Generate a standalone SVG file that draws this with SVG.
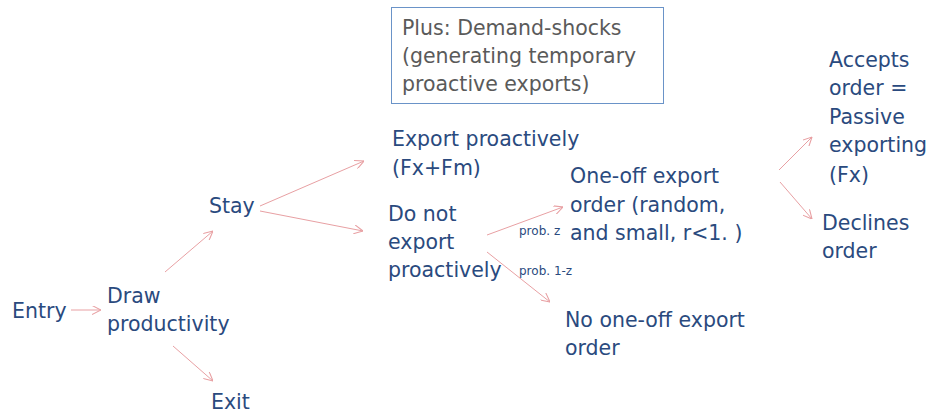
<svg xmlns="http://www.w3.org/2000/svg" width="932" height="413" viewBox="0 0 932 413">
<defs>
<marker id="ah" viewBox="0 0 10 10" refX="10" refY="5" markerWidth="9" markerHeight="9" markerUnits="userSpaceOnUse" orient="auto">
<path d="M0,0 L10,5 L0,10" fill="none" stroke="#e8a0a3" stroke-width="1.2"/>
</marker>
</defs>
<style>
text{font-family:"DejaVu Sans","Noto Sans",sans-serif;font-size:20.5px;fill:#2a4a7e}
.box{font-size:20.5px;fill:#5a5a5a}
.sm{font-size:12px}
.c{stroke:#e8a0a3;stroke-width:1;fill:none;marker-end:url(#ah)}
</style>
<rect width="932" height="413" fill="#fff"/>
<g id="connectors">
<line class="c" x1="71" y1="310" x2="101" y2="310"/>
<line class="c" x1="165" y1="272" x2="213" y2="231"/>
<line class="c" x1="173" y1="346" x2="213" y2="381"/>
<line class="c" x1="260" y1="206" x2="364" y2="161"/>
<line class="c" x1="260" y1="211" x2="363" y2="231"/>
<line class="c" x1="487" y1="235" x2="563" y2="207"/>
<line class="c" x1="487" y1="252" x2="550" y2="302"/>
<line class="c" x1="779" y1="170" x2="812" y2="137"/>
<line class="c" x1="780" y1="182" x2="812" y2="219"/>
</g>
<g id="note">
<rect x="391.5" y="7.5" width="272" height="96" fill="#fff" stroke="#6a93c8" stroke-width="1"/>
<text class="box" x="402" y="35">Plus: Demand-shocks</text>
<text class="box" x="402" y="63">(generating temporary</text>
<text class="box" x="402" y="91">proactive exports)</text>
</g>
<g id="entry"><text x="12" y="318">Entry</text></g>
<g id="draw"><text x="107" y="303">Draw</text><text x="107" y="331">productivity</text></g>
<g id="stay"><text x="209" y="213">Stay</text></g>
<g id="exit"><text x="211" y="409">Exit</text></g>
<g id="export"><text x="392" y="146">Export proactively</text><text x="392" y="175">(Fx+Fm)</text></g>
<g id="donot"><text x="388" y="221">Do not</text><text x="388" y="249">export</text><text x="388" y="277">proactively</text></g>
<g id="probz"><text class="sm" x="519" y="235">prob. z</text></g>
<g id="prob1z"><text class="sm" x="519" y="275">prob. 1-z</text></g>
<g id="oneoff"><text x="570" y="183">One-off export</text><text x="570" y="212">order (random,</text><text x="570" y="240">and small, r&lt;1. )</text></g>
<g id="nooneoff"><text x="565" y="327">No one-off export</text><text x="565" y="355">order</text></g>
<g id="accepts"><text x="829" y="67">Accepts</text><text x="829" y="95">order =</text><text x="829" y="124">Passive</text><text x="829" y="152">exporting</text><text x="829" y="182">(Fx)</text></g>
<g id="declines"><text x="822" y="230">Declines</text><text x="822" y="258">order</text></g>
</svg>
